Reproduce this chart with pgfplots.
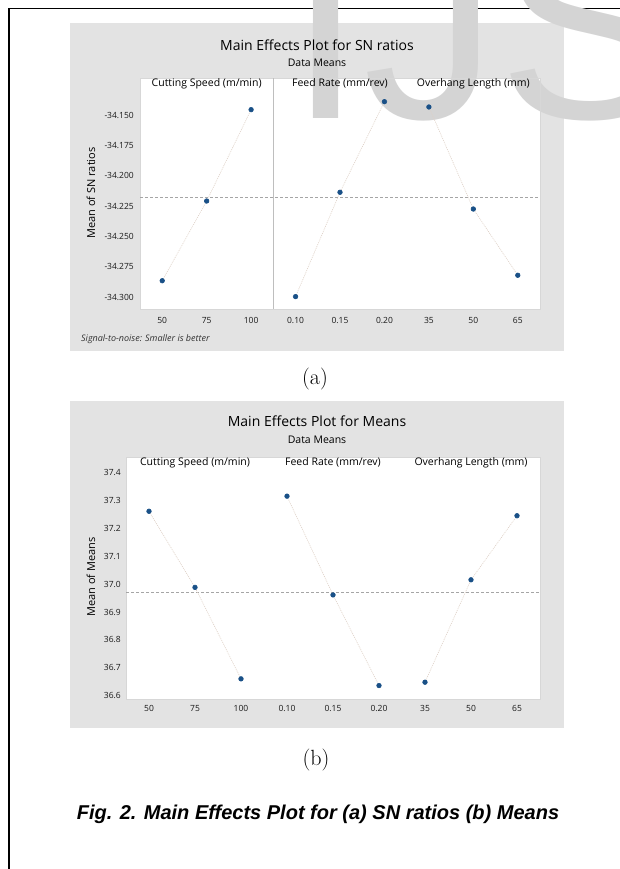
\documentclass[border=0pt]{standalone}
\usepackage{pgfplots}
\pgfplotsset{compat=1.18}
\usepackage{fontspec}
\newfontfamily\os{Open Sans}
\newfontfamily\capfont{Liberation Sans}
\definecolor{panelgray}{RGB}{227,227,227}
\definecolor{wmgray}{RGB}{212,212,212}
\definecolor{mkblue}{RGB}{25,80,135}
\definecolor{linefaint}{RGB}{222,208,198}
\definecolor{meangray}{RGB}{165,165,165}
\definecolor{sepgray}{RGB}{190,190,190}
\definecolor{bordergray}{RGB}{215,215,215}

\pgfplotstableread{
x y
0 -34.2866
1 -34.2209
2 -34.1456
}\snCS
\pgfplotstableread{
x y
3 -34.2997
4 -34.2137
5 -34.1390
}\snFR
\pgfplotstableread{
x y
6 -34.1434
7 -34.2275
8 -34.2821
}\snOL
\pgfplotstableread{
x y
0 37.260
1 36.988
2 36.661
}\mnCS
\pgfplotstableread{
x y
3 37.314
4 36.961
5 36.637
}\mnFR
\pgfplotstableread{
x y
6 36.649
7 37.015
8 37.244
}\mnOL

\tikzset{hdr/.style={anchor=base, inner sep=0pt, font=\os\fontsize{10.5}{12}\selectfont, yshift=-9pt}}
\pgfplotsset{
  mefx/.style={
    anchor=south west, scale only axis, clip=false,
    xmin=-0.5, xmax=8.5,
    axis line style={draw=bordergray},
    xtick={0,...,8},
    xticklabels={50,75,100,0.10,0.15,0.20,35,50,65},
    major tick length=0pt,
    tick label style={font=\os\fontsize{8.5}{10}\selectfont, text=black!90},
    yticklabel style={inner sep=0pt, anchor=east},
    xticklabel style={inner sep=0pt, anchor=north},
    /pgf/number format/assume math mode=true,
  },
  pts/.style={linefaint, line width=0.6pt, dash pattern=on 1pt off 1pt,
    mark=*, mark size=2.3pt, mark options={solid, fill=mkblue, draw=mkblue}},
  meanl/.style={meangray, line width=0.7pt, dash pattern=on 3pt off 2pt},
}

\begin{document}
\begin{tikzpicture}
\useasboundingbox (0pt,0pt) rectangle (620pt,869pt);
% frame
\draw[black, line width=1.6pt] (9pt,-5pt) -- (9pt,860.5pt) -- (625pt,860.5pt);
% panels
\fill[panelgray] (70pt,518pt) rectangle (564pt,846pt);
\fill[panelgray] (70pt,141pt) rectangle (564pt,468pt);
\fill[white] (140pt,560pt) rectangle (540pt,791pt);
\fill[white] (126pt,170pt) rectangle (540pt,412pt);
% watermark
\begin{scope}
\clip (0pt,0pt) rectangle (620pt,869pt);
\node[anchor=base west, inner sep=0pt, text=wmgray, font=\capfont\fontsize{270}{270}\selectfont] at (288pt,750pt) {IJS};
\end{scope}

% ---------- (a) SN ratios ----------
\begin{axis}[mefx,
  at={(140pt,560pt)}, width=400pt, height=231pt,
  ymin=-34.3099, ymax=-34.1195,
  ytick={-34.300,-34.275,-34.250,-34.225,-34.200,-34.175,-34.150},
  yticklabel style={xshift=-6pt, /pgf/number format/.cd, fixed, fixed zerofill, precision=3},
  xticklabel style={yshift=-8pt},
]
\draw[sepgray, line width=0.6pt] (axis cs:2.5,-34.3099) -- (axis cs:2.5,-34.1195);
\addplot[meanl] coordinates {(-0.5,-34.2177) (8.5,-34.2177)};
\addplot[pts] table[x=x,y=y] {\snCS};
\addplot[pts] table[x=x,y=y] {\snFR};
\addplot[pts] table[x=x,y=y] {\snOL};
\node[hdr] at (axis cs:1,-34.1195) {Cutting Speed (m/min)};
\node[hdr] at (axis cs:4,-34.1195) {Feed Rate (mm/rev)};
\node[hdr] at (axis cs:7,-34.1195) {Overhang Length (mm)};
\end{axis}

% ---------- (b) Means ----------
\begin{axis}[mefx,
  at={(126pt,170pt)}, width=414pt, height=242pt,
  ymin=36.589, ymax=37.454,
  ytick={36.6,36.7,36.8,36.9,37.0,37.1,37.2,37.3,37.4},
  yticklabel style={xshift=-5pt, /pgf/number format/.cd, fixed, fixed zerofill, precision=1},
  xticklabel style={yshift=-6pt},
]
\addplot[meanl] coordinates {(-0.5,36.970) (8.5,36.970)};
\addplot[pts] table[x=x,y=y] {\mnCS};
\addplot[pts] table[x=x,y=y] {\mnFR};
\addplot[pts] table[x=x,y=y] {\mnOL};
\node[hdr] at (axis cs:1,37.454) {Cutting Speed (m/min)};
\node[hdr] at (axis cs:4,37.454) {Feed Rate (mm/rev)};
\node[hdr] at (axis cs:7,37.454) {Overhang Length (mm)};
\end{axis}

% titles and labels
\node[anchor=base, inner sep=0pt, font=\os\fontsize{14}{16}\selectfont] at (317pt,818pt) {Main Effects Plot for SN ratios};
\node[anchor=base, inner sep=0pt, font=\os\fontsize{10.5}{12}\selectfont] at (317pt,802pt) {Data Means};
\node[rotate=90, inner sep=0pt, font=\os\fontsize{11}{13}\selectfont] at (91pt,676pt) {Mean of SN ratios};
\node[anchor=base west, inner sep=0pt, font=\os\itshape\fontsize{9}{11}\selectfont, text=black!80] at (81pt,527pt) {Signal-to-noise: Smaller is better};

\node[anchor=base, inner sep=0pt, font=\os\fontsize{14}{16}\selectfont] at (317pt,442pt) {Main Effects Plot for Means};
\node[anchor=base, inner sep=0pt, font=\os\fontsize{10.5}{12}\selectfont] at (317pt,425pt) {Data Means};
\node[rotate=90, inner sep=0pt, font=\os\fontsize{11}{13}\selectfont] at (91pt,292pt) {Mean of Means};

\node[anchor=base, inner sep=0pt, font=\fontsize{22}{26}\selectfont] at (315pt,484.5pt) {(a)};
\node[anchor=base, inner sep=0pt, font=\fontsize{22}{26}\selectfont] at (316pt,103.5pt) {(b)};
\node[anchor=base, inner sep=0pt, font=\capfont\bfseries\itshape\fontsize{20}{24}\selectfont] at (318pt,49pt) {Fig. 2. Main Effects Plot for (a) SN ratios (b) Means};
\end{tikzpicture}
\end{document}
